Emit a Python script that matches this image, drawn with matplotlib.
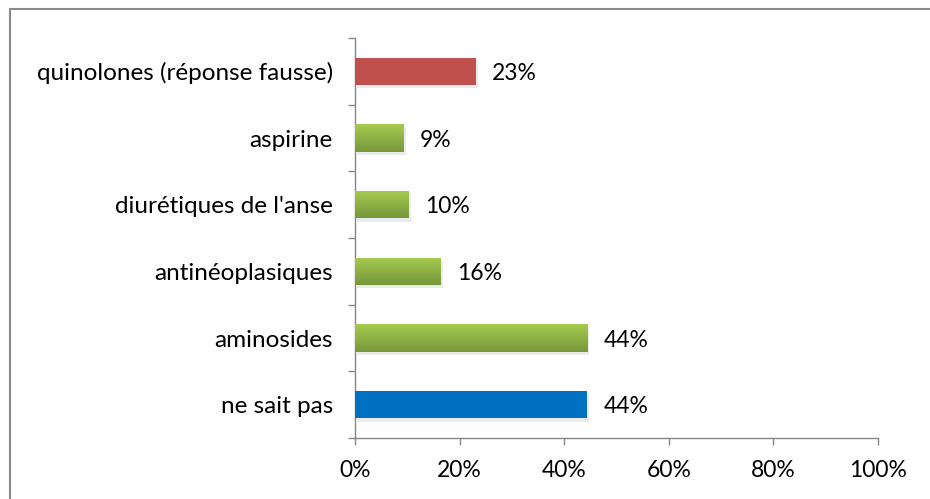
import numpy as np
import matplotlib
matplotlib.use("Agg")
import matplotlib.pyplot as plt
from matplotlib.patches import Rectangle
from matplotlib import patheffects

categories = ["ne sait pas", "aminosides", "antinéoplasiques",
              "diurétiques de l'anse", "aspirine", "quinolones (réponse fausse)"]
values = [44.4, 44.4, 16.4, 10.3, 9.3, 23.1]
bar_kind = ["blue", "green", "green", "green", "green", "red"]
xticks = [0, 20, 40, 60, 80, 100]

plt.rcParams['font.family'] = ['Lato', 'DejaVu Sans']

fig = plt.figure(figsize=(9.30, 4.99), dpi=100)
ax = fig.add_axes([0.3817, 0.1222, 0.5624, 0.8016])

# frame around the whole chart (right/bottom edges fall outside the picture)
fig.patches.append(Rectangle((9.5 / 930, -0.1), 1.2, 1 - 9.5 / 499 + 0.1,
                             transform=fig.transFigure, fill=False,
                             edgecolor='#8c8c8c', linewidth=1.5))

h = 0.41
y = np.arange(len(categories))
grad = np.linspace(0, 1, 64).reshape(-1, 1)
green_cmap = matplotlib.colors.LinearSegmentedColormap.from_list(
    'g', ['#a6cb50', '#77973a'])

shadow = [patheffects.SimplePatchShadow(offset=(1.5, -2.5), shadow_rgbFace='#000000', alpha=0.08),
          patheffects.Normal()]

for yi, v, kind in zip(y, values, bar_kind):
    if kind == 'green':
        r = ax.barh(yi, v, height=h, color='#93b94a', linewidth=0)[0]
        r.set_path_effects(shadow)
        im = ax.imshow(grad, cmap=green_cmap, aspect='auto',
                       extent=(0, v, yi - h / 2, yi + h / 2), zorder=3)
        im.set_clip_path(r)
    else:
        col = '#0070c0' if kind == 'blue' else '#c0504d'
        r = ax.barh(yi, v, height=h, color=col, linewidth=0, zorder=3)[0]
        r.set_path_effects(shadow)
    ax.text(v + 3.1, yi - 0.03, f"{v:.0f}%", va='center', ha='left', fontsize=16.5, color='#000000')

ax.set_xlim(0, 100)
ax.set_ylim(-0.5, len(categories) - 0.5)
ax.set_xticks(xticks)
ax.set_xticklabels([f"{t}%" for t in xticks], fontsize=16.5)
ax.set_yticks(y)
ax.set_yticklabels(categories, fontsize=17.5)
ax.set_yticks(np.arange(-0.5, len(categories)), minor=True)
ax.tick_params(axis='y', which='major', length=0, pad=16)
ax.tick_params(axis='y', which='minor', length=5, color='#868686', width=1)
ax.tick_params(axis='x', length=5, color='#868686', width=1, pad=11)

for s in ['top', 'right']:
    ax.spines[s].set_visible(False)
for s in ['left', 'bottom']:
    ax.spines[s].set_color('#868686')
    ax.spines[s].set_linewidth(1)

fig.savefig('out.png', dpi=100)
